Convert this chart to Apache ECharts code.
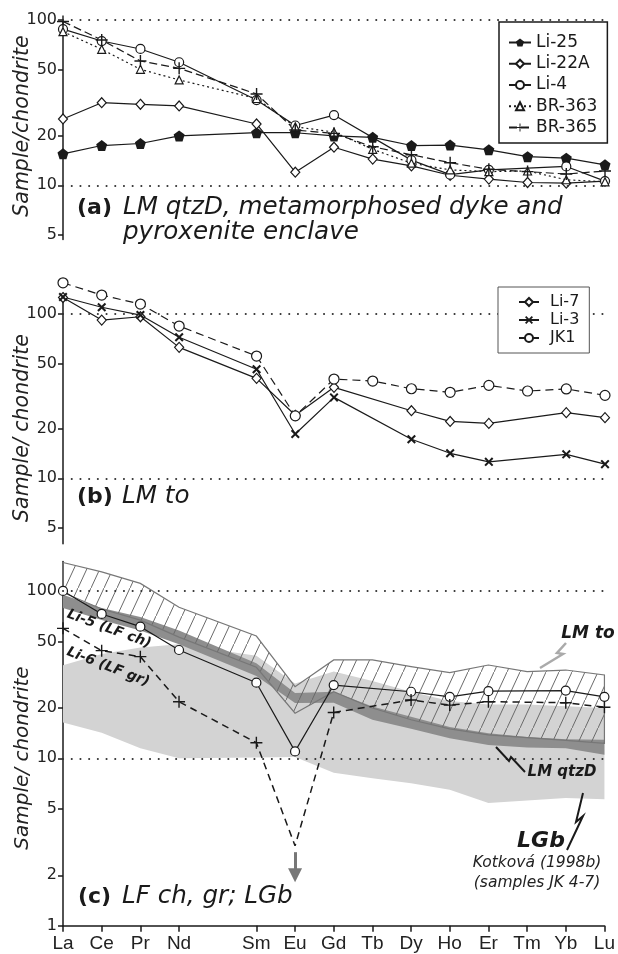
<!DOCTYPE html>
<html>
<head>
<meta charset="utf-8">
<script src="https://cdn.jsdelivr.net/npm/echarts@6/dist/echarts.min.js"></script>
<style>html,body{margin:0;padding:0;background:#fff}#chart{width:618px;height:954px}</style>
</head>
<body>
<div id="chart"></div>
<script>
// REE order, Pm left empty
const elements = ['La', 'Ce', 'Pr', 'Nd', '', 'Sm', 'Eu', 'Gd', 'Tb', 'Dy', 'Ho', 'Er', 'Tm', 'Yb', 'Lu'];

// (a) LM qtzD, dyke, enclave
const li25 = [15.5, 17.4, 17.9, 19.9, null, 20.8, 20.8, 19.9, 19.5, 17.4, 17.5, 16.4, 14.9, 14.6, 13.3];
const li22a = [25.2, 31.6, 30.9, 30.2, null, 23.5, 12.0, 17.0, 14.4, 13.1, 11.5, 10.9, 10.4, 10.3, 10.6];
const li4 = [88, 74.6, 66.8, 55.5, null, 32.8, 23.0, 26.6, null, 14.2, 11.6, 12.4, null, 13.0, 10.6];
const br363 = [85, 66.5, 50.3, 43.4, null, 33.5, 22.6, 21.0, 16.5, 13.6, 12.4, 12.1, 12.2, 10.8, 10.5];
const br365 = [98, 75.7, 56.5, 51, null, 35.7, 21.6, 20.6, 17.1, 15.3, 13.7, 12.5, 12.1, 11.7, 12.2];

// (b) LM to
const li7 = [126, 91.9, 96.3, 62.7, null, 40.6, 24.2, 35.8, null, 25.8, 22.2, 21.6, null, 25.1, 23.4];
const li3 = [127, 110, 98.6, 72.2, null, 46.1, 18.6, 31.1, null, 17.3, 14.2, 12.6, null, 14.0, 12.2];
const jk1 = [155, 130.5, 115, 84.5, null, 55.5, 24.0, 40.2, 39.1, 35.1, 33.4, 36.8, 34.0, 35.0, 32.0];

// (c) LF ch, gr; LGb
const li5 = [100, 72.9, 61.2, 44.4, null, 28.3, 11.0, 27.4, null, 25.0, 23.3, 25.2, null, 25.4, 23.3];
const li6 = [59.8, 44.0, 40.5, 21.8, null, 12.4, 3.0, 18.8, null, 22.3, 20.8, 21.8, null, 21.5, 20.2];
const li6EuArrow = [2.75, 2.0];
// fields
const lmToUpper = [148, 130, 111, 80, null, 53.8, 26.8, 38.7, 38.7, 35.3, 32.5, 36.1, 33, 33.7, 31.5];
const lmToLower = [98, 78, 67, 53, null, 35, 18.6, 25, 20, 17, 15, 13.8, 13.3, 12.8, 12.3];
const qtzDUpper = [95, 79, 70, 58, null, 37, 24.6, 25, 20.4, 17.7, 15.4, 14.1, 13.4, 13.0, 12.9];
const qtzDLower = [79, 67, 58, 48, null, 31, 21.4, 21.5, 17.0, 15.0, 13.2, 12.0, 11.6, 11.5, 10.5];
const lgbUpper = [36, 42, 46, 48, null, 41, 28, 33, 29, 25, 22, 21, 21, 20.5, 20];
const lgbLower = [16.4, 14.2, 11.5, 10, null, 10.1, 10.2, 8.2, 7.6, 7.1, 6.5, 5.4, 5.6, 5.8, 5.7];

const ticksAB = [5, 10, 20, 50, 100];
const ticksC = [1, 2, 5, 10, 20, 50, 100];
const refLines = [10, 100];

const FONT = '"DejaVu Sans", sans-serif';
const INK = '#1a1a1a';

const PENTAGON = 'path://M5,0L10,3.8L8.1,10L1.9,10L0,3.8Z';
const PLUS = 'path://M5.3,0h1.4v5.3h5.3v1.4h-5.3v5.3h-1.4v-5.3h-5.3v-1.4h5.3z';
const CROSS = 'path://M0,1.6L1.6,0L5,3.4L8.4,0L10,1.6L6.6,5L10,8.4L8.4,10L5,6.6L1.6,10L0,8.4L3.4,5Z';

const chart = echarts.init(document.getElementById('chart'));

function hatch() {
  const c = document.createElement('canvas');
  c.width = 13; c.height = 28;
  const g = c.getContext('2d');
  g.strokeStyle = '#6a6a6a';
  g.lineWidth = 1;
  g.beginPath(); g.moveTo(-13, 56); g.lineTo(26, -28); g.stroke();
  return c;
}

function yAxis(idx, min, max, ticks) {
  return {
    type: 'log', logBase: 10, gridIndex: idx, min: min, max: max,
    axisLine: { show: true, lineStyle: { color: INK, width: 1.5 } },
    axisTick: { show: true, inside: false, length: 5, lineStyle: { color: INK, width: 1.5 }, customValues: ticks },
    axisLabel: { show: true, margin: 6, color: '#222', fontSize: 16, fontFamily: FONT, customValues: ticks },
    splitLine: { show: false },
    minorTick: { show: false }
  };
}

function xAxis(idx, show) {
  return {
    type: 'category', gridIndex: idx, data: elements, boundaryGap: false, show: show,
    axisLine: { show: true, lineStyle: { color: INK, width: 1.5 } },
    axisTick: { show: true, length: 6, lineStyle: { color: INK, width: 1.5 },
      interval: function (i, v) { return v !== ''; } },
    axisLabel: { interval: 0, margin: 9, color: '#222', fontSize: 19,
      fontFamily: '"Liberation Sans Narrow", "Liberation Sans", sans-serif' }
  };
}

function line(name, data, idx, symbol, size, dash, open) {
  return {
    name: name, type: 'line', xAxisIndex: idx, yAxisIndex: idx, data: data,
    connectNulls: true, symbol: symbol, symbolSize: size, showAllSymbol: true, clip: false,
    lineStyle: { color: INK, width: 1.2, type: dash },
    itemStyle: open ? { color: '#fff', borderColor: INK, borderWidth: 1.2 } : { color: INK, borderWidth: 0 },
    emphasis: { disabled: true }, z: 3
  };
}

function dotted() {
  return {
    silent: true, symbol: 'none', label: { show: false },
    lineStyle: { color: '#333', type: [0.1, 8.6], width: 2, cap: 'round' },
    data: refLines.map(function (v) { return { yAxis: v }; })
  };
}

function band(upper, lower, style) {
  return {
    type: 'custom', xAxisIndex: 2, yAxisIndex: 2, silent: true, z: 1,
    data: [[0, upper[0]]],
    renderItem: function (params, api) {
      const pts = [];
      upper.forEach(function (v, i) { if (v != null) pts.push(api.coord([i, v])); });
      for (let i = lower.length - 1; i >= 0; i--) {
        if (lower[i] != null) pts.push(api.coord([i, lower[i]]));
      }
      return { type: 'polygon', shape: { points: pts }, style: style };
    }
  };
}

const sA = line('Li-25', li25, 0, PENTAGON, 11, 'solid', false);
sA.markLine = dotted();
const sB = line('Li-7', li7, 1, 'diamond', [9, 10], 'solid', true);
sB.markLine = dotted();
const sC = line('Li-5', li5, 2, 'circle', 9, 'solid', true);
sC.markLine = dotted();
const li6Data = li6.map(function (v, i) { return elements[i] === 'Eu' ? { value: v, symbol: 'none' } : v; });
const sD = line('Li-6', li6Data, 2, PLUS, 12, [7, 5], false);
sD.lineStyle.width = 1.5;
sD.markLine = {
  silent: true, symbol: ['none', 'triangle'], symbolSize: 14, label: { show: false },
  lineStyle: { color: '#777', type: 'solid', width: 3 },
  data: [[{ coord: ['Eu', li6EuArrow[0]] }, { coord: ['Eu', li6EuArrow[1]] }]]
};

function txt(x, y, s, font, opts) {
  return Object.assign({
    type: 'text', x: x, y: y, silent: true, z: 20,
    style: Object.assign({ text: s, font: font, fill: INK, align: 'left', verticalAlign: 'middle' }, (opts && opts.style) || {})
  }, (opts && opts.el) || {});
}
function bolt(pts, color, w) {
  return { type: 'polyline', silent: true, z: 20, shape: { points: pts }, style: { stroke: color, lineWidth: w, fill: null } };
}
const R = Math.PI / 180;

chart.setOption({
  animation: false,
  textStyle: { fontFamily: FONT },
  grid: [
    { left: 63, right: 13, top: 20, height: 219.5 },
    { left: 63, right: 13, top: 297, height: 246.7 },
    { left: 63, right: 13, top: 561.5, height: 364.2 }
  ],
  xAxis: [xAxis(0, false), xAxis(1, false), xAxis(2, true)],
  yAxis: [yAxis(0, 4.7, 100, ticksAB), yAxis(1, 4, 127, ticksAB), yAxis(2, 1, 150, ticksC)],
  legend: [
    { data: ['Li-25', 'Li-22A', 'Li-4', 'BR-363', 'BR-365'], orient: 'vertical', left: 499, top: 22,
      itemWidth: 22, itemHeight: 10, itemGap: 4.25, padding: [12, 10, 7, 9],
      borderColor: INK, borderWidth: 1.5, backgroundColor: '#fff', selectedMode: false, z: 10,
      textStyle: { fontSize: 17, fontFamily: FONT, color: INK } },
    { data: ['Li-7', 'Li-3', 'JK1'], orient: 'vertical', left: 498, top: 287,
      itemWidth: 20, itemHeight: 10, itemGap: 2, padding: [7, 10, 7, 20],
      borderColor: '#555', borderWidth: 1, backgroundColor: '#fff', selectedMode: false, z: 10,
      textStyle: { fontSize: 16, fontFamily: FONT, color: INK, padding: [0, 0, 0, 6] } }
  ],
  series: [
    sA,
    line('Li-22A', li22a, 0, 'diamond', [9, 10], 'solid', true),
    line('Li-4', li4, 0, 'circle', 9, 'solid', true),
    line('BR-363', br363, 0, 'triangle', 8, [2, 3], true),
    line('BR-365', br365, 0, PLUS, 12, [8, 4], false),

    sB,
    line('Li-3', li3, 1, CROSS, 9, 'solid', false),
    line('JK1', jk1, 1, 'circle', 10, [8, 5], true),

    band(lgbUpper, lgbLower, { fill: '#d3d3d3', stroke: null }),
    band(qtzDUpper, qtzDLower, { fill: '#8e8e8e', stroke: null }),
    band(lmToUpper, lmToLower, { fill: { image: hatch(), repeat: 'repeat' }, stroke: '#777', lineWidth: 1.2 }),
    sC,
    sD
  ],
  graphic: [
    txt(23, 126, 'Sample/chondrite', 'italic 20.5px ' + FONT, { el: { rotation: 90 * R }, style: { align: 'center', fill: '#222' } }),
    txt(23, 428, 'Sample/ chondrite', 'italic 20.5px ' + FONT, { el: { rotation: 90 * R }, style: { align: 'center', fill: '#222' } }),
    txt(23, 758, 'Sample/ chondrite', 'italic 20px ' + FONT, { el: { rotation: 90 * R }, style: { align: 'center', fill: '#222' } }),

    txt(77, 208, '(a)', 'bold 22px ' + FONT),
    txt(123, 208, 'LM qtzD, metamorphosed dyke and', 'italic 24.6px ' + FONT),
    txt(123, 233, 'pyroxenite enclave', 'italic 24.6px ' + FONT),
    txt(77, 497, '(b)', 'bold 22px ' + FONT),
    txt(122, 497, 'LM to', 'italic 24.6px ' + FONT),
    txt(78, 897, '(c)', 'bold 22px ' + FONT),
    txt(122, 897, 'LF ch, gr; LGb', 'italic 24.6px ' + FONT),

    txt(109, 629, 'Li-5 (LF ch)', 'italic bold 14px ' + FONT, { el: { rotation: -20 * R }, style: { align: 'center' } }),
    txt(108, 667, 'Li-6 (LF gr)', 'italic bold 14px ' + FONT, { el: { rotation: -21 * R }, style: { align: 'center' } }),
    txt(588, 634, 'LM to', 'italic bold 17px ' + FONT, { style: { align: 'center' } }),
    txt(562, 772, 'LM qtzD', 'italic bold 15px ' + FONT, { style: { align: 'center' } }),
    txt(541, 841, 'LGb', 'italic bold 22px ' + FONT, { style: { align: 'center' } }),
    txt(537, 863, 'Kotková (1998b)', 'italic 15.5px ' + FONT, { style: { align: 'center', fill: '#222' } }),
    txt(537, 883, '(samples JK 4-7)', 'italic 15.5px ' + FONT, { style: { align: 'center', fill: '#222' } }),

    bolt([[566, 643], [557, 653], [563, 654], [540, 668]], '#aaa', 2.5),
    bolt([[496, 747], [509, 761], [511, 757], [525, 772]], INK, 2),
    bolt([[583, 793], [576, 822], [583, 816], [567, 850]], INK, 2)
  ]
});
</script>
</body>
</html>
